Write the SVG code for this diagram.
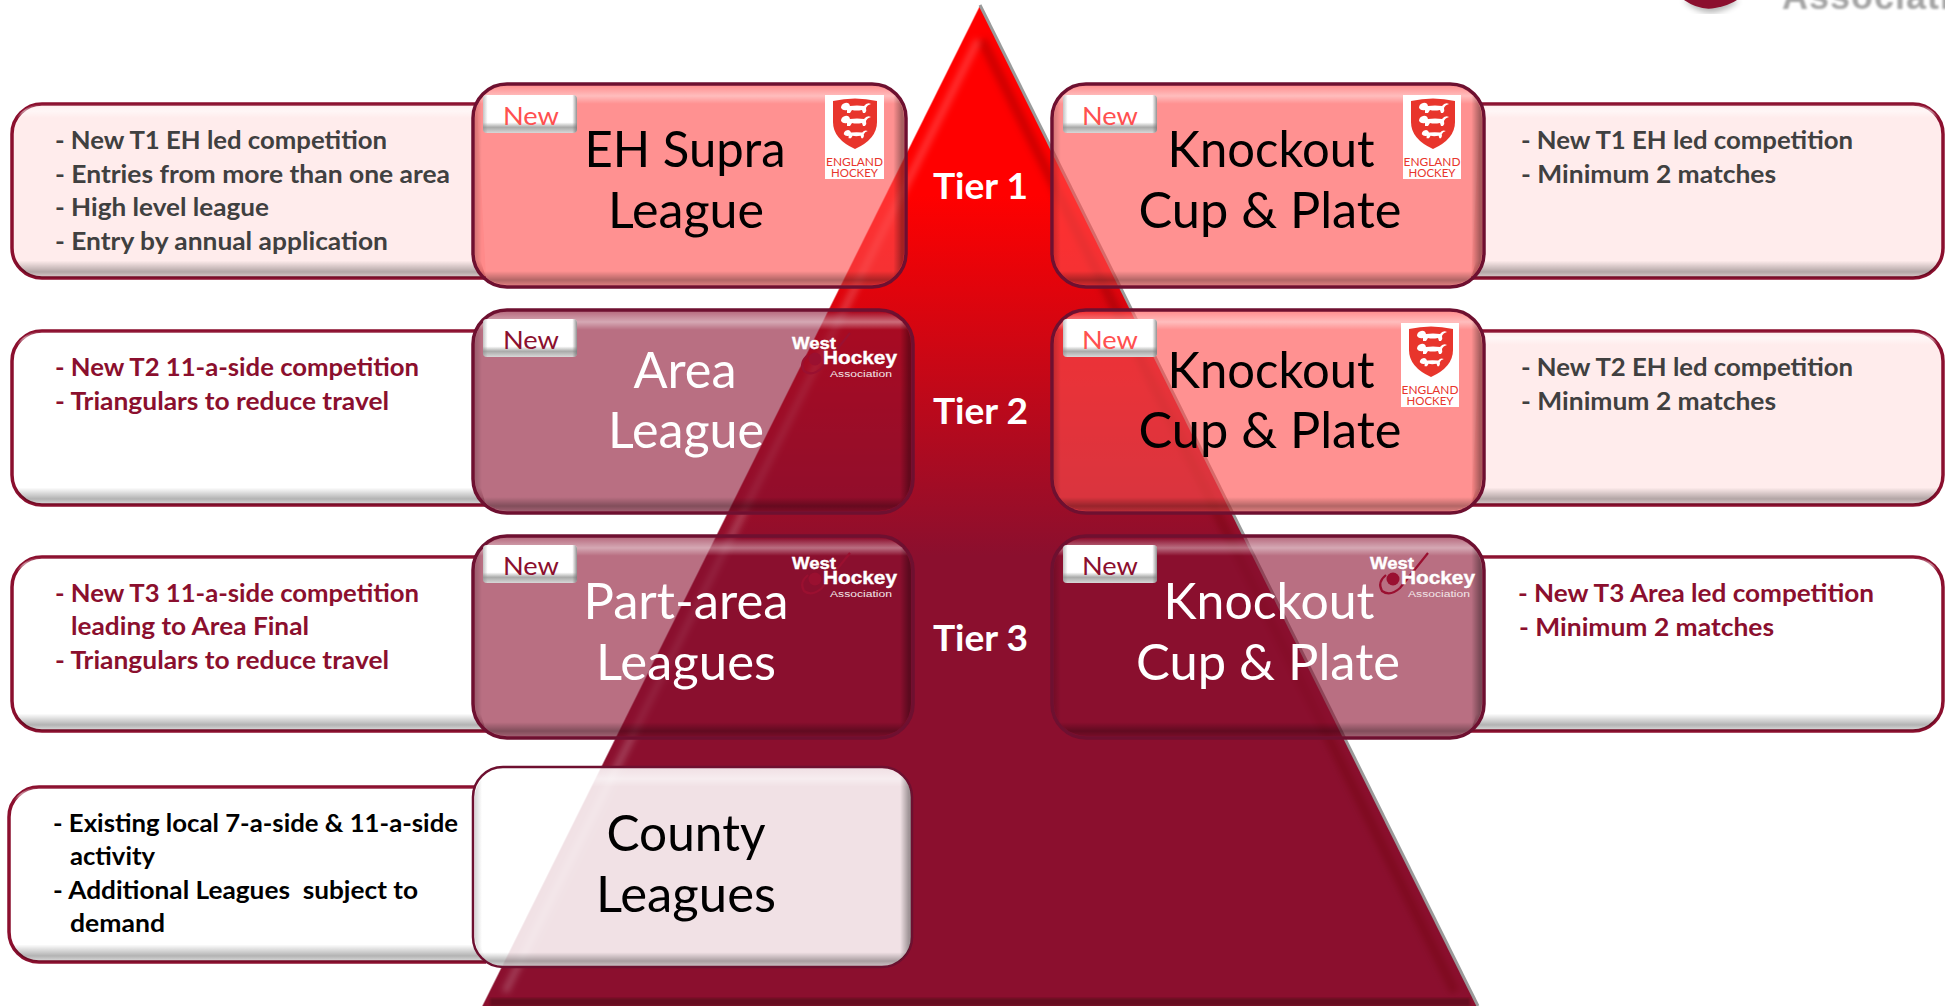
<svg xmlns="http://www.w3.org/2000/svg" xmlns:xlink="http://www.w3.org/1999/xlink" width="1945" height="1006" viewBox="0 0 1945 1006">
<style>
text{font-family:Lato,"Open Sans",sans-serif}
.d{font-size:25px;font-weight:700}
.g{fill:#404040}.c{fill:#8b0f2e}.k{fill:#000}.w{fill:#fff}
.t{font-size:51px;text-anchor:middle}
.tier{font-size:37px;font-weight:700;fill:#fff;text-anchor:middle}
.nw{font-size:25px;text-anchor:middle}
.r{fill:#ff5050}
.box{stroke:#8b0f2e;stroke-width:3.5}
.pale{fill:#ffecec}.wh{fill:#fff}
.node{stroke:#6e1030;stroke-width:3.5}
.npink{fill:#ff4e4e;fill-opacity:.62}
.ncrim{fill:#8b0f2e;fill-opacity:.6}
.nwhite{fill:#fff;fill-opacity:.88}
.eh{font-size:11.5px;fill:#e8352c;text-anchor:middle}
.wa{font-family:"Liberation Sans",Arial,sans-serif;font-weight:700;fill:#fff;stroke:#fff;stroke-width:.35}
</style>
<defs>
<linearGradient id="tri" x1="0" y1="0" x2="0" y2="1">
<stop offset="0" stop-color="#ff0000"/><stop offset=".19" stop-color="#ff0000"/><stop offset=".55" stop-color="#8b0f2e"/><stop offset="1" stop-color="#8b0f2e"/>
</linearGradient>
<linearGradient id="bev" x1="0" y1="0" x2="0" y2="1">
<stop offset="0" stop-color="#fff" stop-opacity="0"/><stop offset=".04" stop-color="#fff" stop-opacity=".55"/><stop offset=".08" stop-color="#fff" stop-opacity="0"/>
<stop offset=".9" stop-color="#000" stop-opacity="0"/><stop offset=".965" stop-color="#000" stop-opacity=".3"/><stop offset="1" stop-color="#000" stop-opacity=".12"/>
</linearGradient>
<linearGradient id="nbev" x1="0" y1="0" x2="0" y2="1">
<stop offset="0" stop-color="#fff" stop-opacity="0"/><stop offset=".05" stop-color="#fff" stop-opacity=".4"/><stop offset=".09" stop-color="#fff" stop-opacity="0"/>
<stop offset=".93" stop-color="#000" stop-opacity="0"/><stop offset=".975" stop-color="#000" stop-opacity=".3"/><stop offset="1" stop-color="#000" stop-opacity=".15"/>
</linearGradient>
<linearGradient id="side" x1="0" y1="0" x2="1" y2="0">
<stop offset="0" stop-color="#000" stop-opacity=".16"/><stop offset=".016" stop-color="#000" stop-opacity="0"/><stop offset=".975" stop-color="#000" stop-opacity="0"/><stop offset=".995" stop-color="#000" stop-opacity=".34"/><stop offset="1" stop-color="#000" stop-opacity=".34"/>
</linearGradient>
<linearGradient id="tag" x1="0" y1="0" x2="0" y2="1">
<stop offset="0" stop-color="#fff"/><stop offset=".72" stop-color="#fff"/><stop offset=".85" stop-color="#a9aaa9"/><stop offset="1" stop-color="#d8d8d8"/>
</linearGradient>
<linearGradient id="tagside" x1="0" y1="0" x2="1" y2="0">
<stop offset="0" stop-color="#888" stop-opacity=".5"/><stop offset=".05" stop-color="#888" stop-opacity="0"/><stop offset=".95" stop-color="#777" stop-opacity="0"/><stop offset="1" stop-color="#777" stop-opacity=".8"/>
</linearGradient>
<filter id="b3"><feGaussianBlur stdDeviation="3"/></filter>
<filter id="b1"><feGaussianBlur stdDeviation="1.2"/></filter>
<g id="lion" fill="#fff">
<path d="M-14 -1 Q-14 -5 -10 -6 Q-6 -7 -5 -3 Q2 -4 9 -3 Q12 -7 16 -5 Q12 -4 11 -1 Q12 2 10 4 L8 4 L7 1 Q1 2 -3 1 L-5 4 L-8 4 L-8 1 Q-12 2 -14 -1Z"/>
</g>
<g id="shield">
<path fill="#e8352c" d="M8 6 Q30 1 52 6 V27 Q52 44 30 54 Q8 44 8 27Z"/>
<use xlink:href="#lion" href="#lion" x="30" y="14"/><use xlink:href="#lion" href="#lion" x="30" y="27"/>
<use xlink:href="#lion" href="#lion" transform="translate(30 40) scale(.8)"/>
</g>
<g id="stick" fill="none" stroke="#9a1030" stroke-width="2.2">
<path d="M850 333 L822 368 Q812 377 804 371 Q799 362 808 355"/>
<circle cx="815" cy="359" r="6.5" fill="#9a1030" stroke="none"/>
</g>
</defs>

<rect width="1945" height="1006" fill="#fff"/>

<g id="corner-logo">
<path d="M1683 0 Q1700 15 1716 12 Q1732 8 1739 0Z" fill="#000" opacity=".3" filter="url(#b3)"/>
<path d="M1684 0 Q1700 11 1715 8 Q1730 5 1737 0Z" fill="#8b0f2e"/>
<text x="1782" y="9" font-size="36" font-weight="700" fill="#a5a5a5" letter-spacing="1" style="font-family:'Liberation Sans',sans-serif" filter="url(#b1)">Association</text>
</g>

<g id="pyramid">
<polygon points="980,5 1478,1006 482,1006" fill="url(#tri)"/>
<polyline points="980,5 482,1006" fill="none" stroke="#fff" stroke-opacity=".45" stroke-width="1.5"/>
<polyline points="980,5 1478,1006" fill="none" stroke="#9a9a9a" stroke-width="3"/>
<path d="M982 40 L1455 992" fill="none" stroke="#600" stroke-opacity=".3" stroke-width="10" filter="url(#b3)"/>
<path d="M978 40 L505 992" fill="none" stroke="#fff" stroke-opacity=".2" stroke-width="7" filter="url(#b3)"/>
<rect x="490" y="998" width="980" height="8" fill="#4a0818" opacity=".55" filter="url(#b1)"/>
</g>

<g id="desc-t1-left">
<path class="box pale" d="M477 104 H42 A30 30 0 0 0 12 134 V248 A30 30 0 0 0 42 278 H486"/>
<path fill="url(#bev)" d="M477 104 H42 A30 30 0 0 0 12 134 V248 A30 30 0 0 0 42 278 H486 L482 265 L475 240 L473 140Z"/>
<text class="d g" x="55" y="149" textLength="332" lengthAdjust="spacingAndGlyphs">- New T1 EH led competition</text>
<text class="d g" x="55" y="183" textLength="395" lengthAdjust="spacingAndGlyphs">- Entries from more than one area</text>
<text class="d g" x="55" y="216" textLength="214" lengthAdjust="spacingAndGlyphs">- High level league</text>
<text class="d g" x="55" y="250" textLength="333" lengthAdjust="spacingAndGlyphs">- Entry by annual application</text>
</g>
<g id="desc-t2-left">
<path class="box wh" d="M477 331 H42 A30 30 0 0 0 12 361 V475 A30 30 0 0 0 42 505 H486"/>
<path fill="url(#bev)" d="M477 331 H42 A30 30 0 0 0 12 361 V475 A30 30 0 0 0 42 505 H486 L482 492 L475 467 L473 367Z"/>
<text class="d c" x="55" y="376" textLength="364" lengthAdjust="spacingAndGlyphs">- New T2 11-a-side competition</text>
<text class="d c" x="55" y="410" textLength="334" lengthAdjust="spacingAndGlyphs">- Triangulars to reduce travel</text>
</g>
<g id="desc-t3-left">
<path class="box wh" d="M477 557 H42 A30 30 0 0 0 12 587 V701 A30 30 0 0 0 42 731 H486"/>
<path fill="url(#bev)" d="M477 557 H42 A30 30 0 0 0 12 587 V701 A30 30 0 0 0 42 731 H486 L482 718 L475 693 L473 593Z"/>
<text class="d c" x="55" y="602" textLength="364" lengthAdjust="spacingAndGlyphs">- New T3 11-a-side competition</text>
<text class="d c" x="71" y="635" textLength="238" lengthAdjust="spacingAndGlyphs">leading to Area Final</text>
<text class="d c" x="55" y="669" textLength="334" lengthAdjust="spacingAndGlyphs">- Triangulars to reduce travel</text>
</g>
<g id="desc-county">
<path class="box wh" d="M476 787 H39 A30 30 0 0 0 9 817 V932 A30 30 0 0 0 39 962 H486"/>
<path fill="url(#bev)" d="M476 787 H39 A30 30 0 0 0 9 817 V932 A30 30 0 0 0 39 962 H486 L482 949 L475 925 L473 820Z"/>
<text class="d k" x="53" y="832" textLength="405" lengthAdjust="spacingAndGlyphs">- Existing local 7-a-side &amp; 11-a-side</text>
<text class="d k" x="70" y="865" textLength="85" lengthAdjust="spacingAndGlyphs">activity</text>
<text class="d k" x="53" y="899" textLength="365" lengthAdjust="spacingAndGlyphs" xml:space="preserve">- Additional Leagues  subject to</text>
<text class="d k" x="70" y="932" textLength="95" lengthAdjust="spacingAndGlyphs">demand</text>
</g>
<g id="desc-t1-right">
<path class="box pale" d="M1481 104 H1913 A30 30 0 0 1 1943 134 V248 A30 30 0 0 1 1913 278 H1471"/>
<path fill="url(#bev)" d="M1481 104 H1913 A30 30 0 0 1 1943 134 V248 A30 30 0 0 1 1913 278 H1471 L1475 265 L1482 240 L1484 140Z"/>
<text class="d g" x="1521" y="149" textLength="332" lengthAdjust="spacingAndGlyphs">- New T1 EH led competition</text>
<text class="d g" x="1521" y="183" textLength="255" lengthAdjust="spacingAndGlyphs">- Minimum 2 matches</text>
</g>
<g id="desc-t2-right">
<path class="box pale" d="M1481 331 H1913 A30 30 0 0 1 1943 361 V475 A30 30 0 0 1 1913 505 H1471"/>
<path fill="url(#bev)" d="M1481 331 H1913 A30 30 0 0 1 1943 361 V475 A30 30 0 0 1 1913 505 H1471 L1475 492 L1482 467 L1484 367Z"/>
<text class="d g" x="1521" y="376" textLength="332" lengthAdjust="spacingAndGlyphs">- New T2 EH led competition</text>
<text class="d g" x="1521" y="410" textLength="255" lengthAdjust="spacingAndGlyphs">- Minimum 2 matches</text>
</g>
<g id="desc-t3-right">
<path class="box wh" d="M1481 557 H1913 A30 30 0 0 1 1943 587 V701 A30 30 0 0 1 1913 731 H1471"/>
<path fill="url(#bev)" d="M1481 557 H1913 A30 30 0 0 1 1943 587 V701 A30 30 0 0 1 1913 731 H1471 L1475 718 L1482 693 L1484 593Z"/>
<text class="d c" x="1518" y="602" textLength="356" lengthAdjust="spacingAndGlyphs">- New T3 Area led competition</text>
<text class="d c" x="1519" y="636" textLength="255" lengthAdjust="spacingAndGlyphs">- Minimum 2 matches</text>
</g>

<g id="node-eh-supra">
<rect class="node npink" x="473" y="84" width="433" height="203" rx="34" ry="34"/>
<rect fill="url(#nbev)" x="475" y="86" width="429" height="199" rx="32"/><rect fill="url(#side)" x="475" y="86" width="429" height="199" rx="32"/>
<rect x="483" y="95" width="94" height="38" rx="4" fill="url(#tag)"/><rect x="483" y="95" width="94" height="38" rx="4" fill="url(#tagside)"/>
<text class="nw r" x="531" y="125" textLength="56" lengthAdjust="spacingAndGlyphs">New</text>
<rect x="825" y="95" width="59" height="84" fill="#fff"/><use xlink:href="#shield" href="#shield" x="825" y="95"/>
<text class="eh" x="854.5" y="166" textLength="57" lengthAdjust="spacingAndGlyphs">ENGLAND</text><text class="eh" x="854.5" y="177" textLength="47" lengthAdjust="spacingAndGlyphs">HOCKEY</text>
<text class="t k" x="685" y="167" textLength="201" lengthAdjust="spacingAndGlyphs">EH Supra</text>
<text class="t k" x="686" y="228" textLength="156" lengthAdjust="spacingAndGlyphs">League</text>
</g>
<g id="node-area">
<rect class="node ncrim" x="473" y="310" width="440" height="203" rx="34" ry="34"/>
<rect fill="url(#nbev)" x="475" y="312" width="436" height="199" rx="32"/><rect fill="url(#side)" x="475" y="312" width="436" height="199" rx="32"/>
<rect x="483" y="319" width="94" height="38" rx="4" fill="url(#tag)"/><rect x="483" y="319" width="94" height="38" rx="4" fill="url(#tagside)"/>
<text class="nw c" x="531" y="349" textLength="56" lengthAdjust="spacingAndGlyphs">New</text>
<use xlink:href="#stick" href="#stick"/>
<text class="wa" x="792" y="349" font-size="17" textLength="44" lengthAdjust="spacingAndGlyphs">West</text>
<text class="wa" x="823" y="364" font-size="18" textLength="74" lengthAdjust="spacingAndGlyphs">Hockey</text>
<text class="wa" x="830" y="377" font-size="8.5" textLength="62" lengthAdjust="spacingAndGlyphs" style="stroke:none;font-weight:400;fill:#f2e6e8">Association</text>
<text class="t w" x="685" y="388" textLength="103" lengthAdjust="spacingAndGlyphs">Area</text>
<text class="t w" x="686" y="448" textLength="156" lengthAdjust="spacingAndGlyphs">League</text>
</g>
<g id="node-part-area">
<rect class="node ncrim" x="473" y="536" width="440" height="202" rx="34" ry="34"/>
<rect fill="url(#nbev)" x="475" y="538" width="436" height="198" rx="32"/><rect fill="url(#side)" x="475" y="538" width="436" height="198" rx="32"/>
<rect x="483" y="545" width="94" height="38" rx="4" fill="url(#tag)"/><rect x="483" y="545" width="94" height="38" rx="4" fill="url(#tagside)"/>
<text class="nw c" x="531" y="575" textLength="56" lengthAdjust="spacingAndGlyphs">New</text>
<use xlink:href="#stick" href="#stick" y="220"/>
<text class="wa" x="792" y="569" font-size="17" textLength="44" lengthAdjust="spacingAndGlyphs">West</text>
<text class="wa" x="823" y="584" font-size="18" textLength="74" lengthAdjust="spacingAndGlyphs">Hockey</text>
<text class="wa" x="830" y="597" font-size="8.5" textLength="62" lengthAdjust="spacingAndGlyphs" style="stroke:none;font-weight:400;fill:#f2e6e8">Association</text>
<text class="t w" x="686" y="619" textLength="205" lengthAdjust="spacingAndGlyphs">Part-area</text>
<text class="t w" x="686" y="680" textLength="180" lengthAdjust="spacingAndGlyphs">Leagues</text>
</g>
<g id="node-county">
<rect class="node nwhite" x="473" y="767" width="439" height="200" rx="30" ry="30" style="stroke-width:2.5"/>
<rect fill="url(#nbev)" x="475" y="769" width="436" height="197" rx="28"/><rect fill="url(#side)" x="475" y="769" width="436" height="197" rx="28"/>
<text class="t k" x="686" y="851" textLength="159" lengthAdjust="spacingAndGlyphs">County</text>
<text class="t k" x="686" y="912" textLength="180" lengthAdjust="spacingAndGlyphs">Leagues</text>
</g>
<g id="node-knockout-1">
<rect class="node npink" x="1052" y="84" width="432" height="203" rx="34" ry="34"/>
<rect fill="url(#nbev)" x="1054" y="86" width="428" height="199" rx="32"/><rect fill="url(#side)" x="1054" y="86" width="428" height="199" rx="32"/>
<rect x="1063" y="95" width="94" height="38" rx="4" fill="url(#tag)"/><rect x="1063" y="95" width="94" height="38" rx="4" fill="url(#tagside)"/>
<text class="nw r" x="1110" y="125" textLength="56" lengthAdjust="spacingAndGlyphs">New</text>
<rect x="1403" y="95" width="58" height="84" fill="#fff"/><use xlink:href="#shield" href="#shield" x="1403" y="95"/>
<text class="eh" x="1432" y="166" textLength="57" lengthAdjust="spacingAndGlyphs">ENGLAND</text><text class="eh" x="1432" y="177" textLength="47" lengthAdjust="spacingAndGlyphs">HOCKEY</text>
<text class="t k" x="1271" y="167" textLength="207" lengthAdjust="spacingAndGlyphs">Knockout</text>
<text class="t k" x="1270" y="228" textLength="263" lengthAdjust="spacingAndGlyphs">Cup &amp; Plate</text>
</g>
<g id="node-knockout-2">
<rect class="node npink" x="1052" y="310" width="432" height="203" rx="34" ry="34"/>
<rect fill="url(#nbev)" x="1054" y="312" width="428" height="199" rx="32"/><rect fill="url(#side)" x="1054" y="312" width="428" height="199" rx="32"/>
<rect x="1063" y="319" width="94" height="38" rx="4" fill="url(#tag)"/><rect x="1063" y="319" width="94" height="38" rx="4" fill="url(#tagside)"/>
<text class="nw r" x="1110" y="349" textLength="56" lengthAdjust="spacingAndGlyphs">New</text>
<rect x="1401" y="323" width="58" height="84" fill="#fff"/><use xlink:href="#shield" href="#shield" x="1401" y="323"/>
<text class="eh" x="1430" y="394" textLength="57" lengthAdjust="spacingAndGlyphs">ENGLAND</text><text class="eh" x="1430" y="405" textLength="47" lengthAdjust="spacingAndGlyphs">HOCKEY</text>
<text class="t k" x="1271" y="388" textLength="207" lengthAdjust="spacingAndGlyphs">Knockout</text>
<text class="t k" x="1270" y="448" textLength="263" lengthAdjust="spacingAndGlyphs">Cup &amp; Plate</text>
</g>
<g id="node-knockout-3">
<rect class="node ncrim" x="1052" y="536" width="432" height="202" rx="34" ry="34"/>
<rect fill="url(#nbev)" x="1054" y="538" width="428" height="198" rx="32"/><rect fill="url(#side)" x="1054" y="538" width="428" height="198" rx="32"/>
<rect x="1063" y="545" width="94" height="38" rx="4" fill="url(#tag)"/><rect x="1063" y="545" width="94" height="38" rx="4" fill="url(#tagside)"/>
<text class="nw c" x="1110" y="575" textLength="56" lengthAdjust="spacingAndGlyphs">New</text>
<use xlink:href="#stick" href="#stick" x="578" y="220"/>
<text class="wa" x="1370" y="569" font-size="17" textLength="44" lengthAdjust="spacingAndGlyphs">West</text>
<text class="wa" x="1401" y="584" font-size="18" textLength="74" lengthAdjust="spacingAndGlyphs">Hockey</text>
<text class="wa" x="1408" y="597" font-size="8.5" textLength="62" lengthAdjust="spacingAndGlyphs" style="stroke:none;font-weight:400;fill:#f2e6e8">Association</text>
<text class="t w" x="1269" y="619" textLength="211" lengthAdjust="spacingAndGlyphs">Knockout</text>
<text class="t w" x="1268" y="680" textLength="264" lengthAdjust="spacingAndGlyphs">Cup &amp; Plate</text>
</g>

<g id="tier-labels">
<text class="tier" x="980.5" y="199" textLength="95" lengthAdjust="spacingAndGlyphs">Tier 1</text>
<text class="tier" x="980.5" y="424" textLength="95" lengthAdjust="spacingAndGlyphs">Tier 2</text>
<text class="tier" x="980.5" y="651" textLength="95" lengthAdjust="spacingAndGlyphs">Tier 3</text>
</g>
</svg>
